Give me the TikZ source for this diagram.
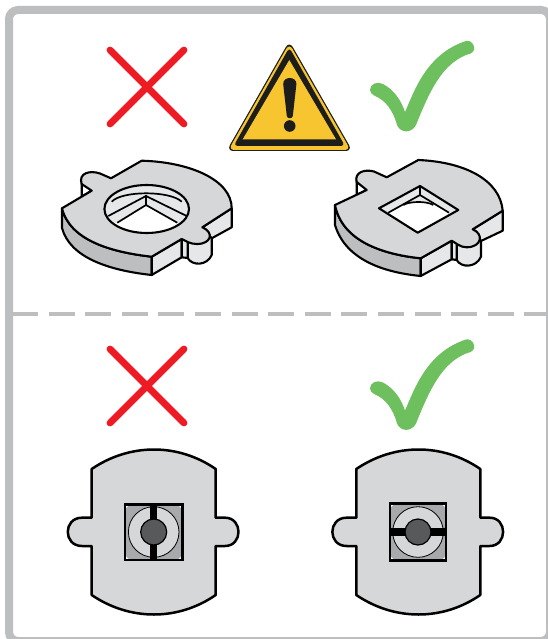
\documentclass[tikz,border=0pt]{standalone}
\definecolor{framegrey}{HTML}{BCBEC0}
\definecolor{topgrey}{HTML}{D6D7D9}
\definecolor{lightside}{HTML}{E6E7E8}
\definecolor{darkside}{HTML}{BCBEC0}
\definecolor{octagrey}{HTML}{A7A9AC}
\definecolor{ringgrey}{HTML}{D6D7D9}
\definecolor{wrongred}{HTML}{ED1C24}
\definecolor{okgreen}{HTML}{6EBF5E}
\definecolor{signyellow}{HTML}{F6C52F}
\definecolor{signblack}{HTML}{1D1D1B}
\definecolor{hubgrey}{HTML}{58595B}
\tikzset{
  outline/.style={draw=black,line width=2.1pt,line join=round},
  thinline/.style={draw=black,line width=1.7pt,line join=round},
  crossmark/.style={draw=wrongred,line width=6.8pt,line cap=round},
  plate/.style={fill=topgrey,draw=black,line width=2.5pt,line join=round}
}
\newcommand{\crossat}[2]{%
  \begin{scope}[shift={(#1,#2)}]
    \draw[crossmark] (110,50) -- (184,124);
    \draw[crossmark] (184,50) -- (110,124);
  \end{scope}}
\newcommand{\checkat}[2]{%
  \begin{scope}[shift={(#1,#2)}]
    \fill[okgreen] (370,90) .. controls (370,84) and (377,81) .. (383,84)
      .. controls (394,90) and (401,100) .. (405,112)
      .. controls (414,92) and (426,54) .. (466,41)
      .. controls (473,40) and (475,47) .. (474,50)
      .. controls (472,54) and (469,54) .. (466,55)
      .. controls (442,65) and (430,90) .. (416,125)
      .. controls (412,133) and (401,134) .. (397,125)
      .. controls (393,110) and (385,100) .. (375,96)
      .. controls (372,94) and (370,93) .. (370,90) -- cycle;
  \end{scope}}
\newcommand{\plateshape}{%
  \path[plate] (91.7,469) .. controls (130,443) and (178,443) .. (215.7,469)
    -- (215.7,517.7) -- (225,517.7) .. controls (243,517.7) and (243,546) .. (225,546)
    -- (215.7,546) -- (215.7,595) .. controls (178,621) and (130,621) .. (91.7,595)
    -- (91.7,546) -- (82,546) .. controls (63,546) and (63,517.7) .. (82,517.7)
    -- (91.7,517.7) -- cycle;}
\begin{document}
\begin{tikzpicture}[x=1pt,y=-1pt]
\useasboundingbox (0,0) rectangle (548,639);
\fill[white] (0,0) rectangle (548,639);
\draw[framegrey,line width=8pt,rounded corners=9pt] (9,10) rectangle (550,641);
\draw[framegrey,line width=3.2pt,dash pattern=on 26pt off 10.6pt] (12,314) -- (548,314);

% marks
\crossat{0}{0}
\crossat{0}{299}
\checkat{0}{0}
\checkat{0}{298.5}

% warning sign
\fill[signblack,rounded corners=7pt] (289.3,41) -- (352.5,151) -- (226.5,151) -- cycle;
\fill[signyellow,rounded corners=6pt] (289.3,43.5) -- (350.5,150) -- (228.5,150) -- cycle;
\fill[signblack,rounded corners=4pt] (289.3,47.5) -- (345,146) -- (233.6,146) -- cycle;
\fill[signyellow] (289.3,60) -- (336,139.3) -- (242.7,139.3) -- cycle;
\fill[signblack] (283.2,84) .. controls (283,76) and (296.6,76) .. (296.4,84)
  -- (292.8,116) .. controls (292.4,119) and (287.2,119) .. (286.8,116) -- cycle;
\fill[signblack] (289.7,126) circle (5.8);

% left washer
\path[fill=darkside,outline] (62,208.3) -- (62,228) .. controls (70,258) and (110,270.5) .. (151.7,275)
  -- (151.7,256.7) .. controls (110,252) and (70,240) .. (62,208.3) -- cycle;
\path[fill=lightside,outline] (151.7,256.7) -- (151.7,275) -- (181.7,257.3) -- (181.7,239) -- cycle;
\path[fill=lightside,outline] (187.7,241) -- (187.7,258) .. controls (192,266) and (207,266) .. (211.7,255)
  -- (211.7,236) -- cycle;
\path[fill=lightside,outline] (181.7,239) -- (181.7,257.3) -- (187.7,258) -- (187.7,241) -- cycle;
\path[fill=lightside,outline] (202.3,227.3) -- (231.7,208.3) -- (231.7,227.3) -- (211.7,238.3) -- cycle;
\path[fill=white,outline] (81.7,181.7) -- (81.7,196.7) -- (91.7,190.7) -- cycle;
\path[fill=topgrey,outline] (62,208.3) -- (91.7,190.7) -- (81.7,184)
  .. controls (78,173) and (90,170) .. (100,173.5) -- (111,178.3) -- (141.7,160.7)
  .. controls (190,162) and (231.7,180) .. (231.7,208.3) -- (202.3,227.3)
  .. controls (214,232) and (212,244) .. (196.7,244) .. controls (190,244) and (186,241) .. (181.7,239)
  -- (151.7,256.7) .. controls (110,252) and (70,240) .. (62,208.3) -- cycle;
\path[fill=white] (146.7,209) ellipse (42.3 and 24);
\begin{scope}
  \clip (146.7,209) ellipse (42.3 and 24);
  \fill[lightside] (100,180) rectangle (195,222.7) ;
  \fill[white] (146,205) -- (177.3,222.7) -- (195,235) -- (100,235) -- (117.3,222.7) -- cycle;
  \fill[white] (100,222.7) rectangle (195,240);
  \draw[thinline] (111.7,201.7) .. controls (122,190.5) and (170,190.5) .. (181.7,201.7);
  \draw[thinline] (146,196) -- (108.3,216) (146,196) -- (186.7,216);
  \draw[thinline] (146,205) -- (117.3,222.7) (146,205) -- (177.3,222.7);
  \draw[thinline] (146,195) -- (146,205);
\end{scope}
\draw[outline] (146.7,209) ellipse (42.3 and 24);

% right washer
\path[fill=darkside,outline] (335,205) -- (335,225) .. controls (345,258) and (380,272) .. (420.7,276)
  -- (420.7,258.3) .. controls (380,254) and (342,240) .. (335,205) -- cycle;
\path[fill=lightside,outline] (420.7,258.3) -- (420.7,276) -- (451.7,259.3) -- (451.7,240.7) -- cycle;
\path[fill=lightside,outline] (456.7,243) -- (456.7,260) .. controls (461,268) and (476,268) .. (481,256.7)
  -- (481,238.3) -- cycle;
\path[fill=lightside,outline] (451.7,240.7) -- (451.7,259.3) -- (456.7,260) -- (456.7,243) -- cycle;
\path[fill=lightside,outline] (472.7,229.3) -- (502.7,210.7) -- (502.7,230.7) -- (481,241) -- cycle;
\path[fill=white,outline] (356.7,178) -- (356.7,195) -- (366.7,190) -- cycle;
\path[fill=topgrey,outline] (335,205) -- (366.7,190) -- (356.7,182)
  .. controls (354,172) and (365,169) .. (374,171.5) -- (386.7,177.3) -- (418.3,160)
  .. controls (465,162) and (500,180) .. (502.7,210.7) -- (472.7,229.3)
  .. controls (484,234) and (482,247) .. (466.7,247.3) .. controls (460,247.3) and (456,243) .. (451.7,240.7)
  -- (420.7,258.3) .. controls (380,254) and (342,240) .. (335,205) -- cycle;
\path[fill=lightside] (420,186) -- (458.3,210) -- (417.7,232.7) -- (379,208.3) -- cycle;
\path[fill=white] (388.3,212.7) -- (403.3,205) .. controls (410,201) and (427,201) .. (433.3,205)
  -- (449,212.7) -- (458.3,210) -- (417.7,232.7) -- (379,208.3) -- cycle;
\draw[thinline] (420,186) -- (420,195) (388.3,212.7) -- (420,195) -- (449,212.7);
\draw[thinline] (403.3,205) .. controls (410,201) and (427,201) .. (433.3,205);
\draw[outline] (420,186) -- (458.3,210) -- (417.7,232.7) -- (379,208.3) -- cycle;

% left plate
\plateshape
\fill[white] (125,504.3) rectangle (182.3,560);
\fill[octagrey] (130,504.3) -- (177.3,504.3) -- (182.3,509.3) -- (182.3,555) -- (177.3,560) -- (130,560) -- (125,555) -- (125,509.3) -- cycle;
\path[fill=ringgrey,draw=black,line width=.8pt] (153.7,532) circle (25.3);
\fill[black] (150,504.3) rectangle (157.4,560);
\path[fill=hubgrey,draw=black,line width=1.2pt] (153.7,532) circle (13);
\draw[black,line width=2.6pt] (125,504.3) rectangle (182.3,560);

% right plate
\begin{scope}[shift={(264.6,0)}]
\plateshape
\end{scope}
\fill[white] (390,503.3) rectangle (446,560.7);
\fill[octagrey] (395,503.3) -- (441,503.3) -- (446,508.3) -- (446,555.7) -- (441,560.7) -- (395,560.7) -- (390,555.7) -- (390,508.3) -- cycle;
\path[fill=ringgrey,draw=black,line width=.8pt] (418,532) circle (25.3);
\fill[black] (390,528.3) rectangle (446,535.7);
\path[fill=hubgrey,draw=black,line width=1.2pt] (418,532) circle (13);
\draw[black,line width=2.6pt] (390,503.3) rectangle (446,560.7);
\end{tikzpicture}
\end{document}
